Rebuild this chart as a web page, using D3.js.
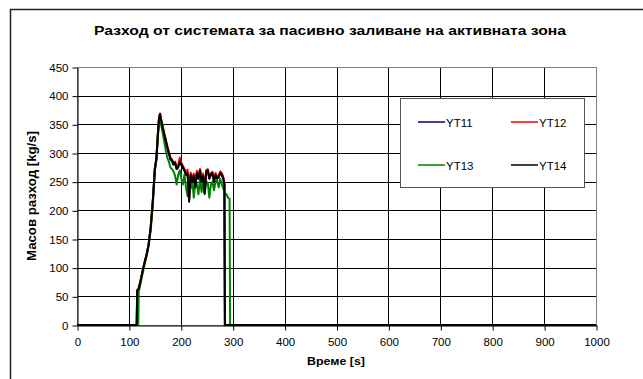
<!DOCTYPE html>
<html>
<head>
<meta charset="utf-8">
<script src="https://cdn.jsdelivr.net/npm/d3@7"></script>
<style>
  body { margin: 0; background: #fff; }
  svg { display: block; font-family: "Liberation Sans", Arial, sans-serif; }
</style>
</head>
<body>
<svg width="643" height="379"></svg>
<script>
// Time points [s]
const times = [0, 115, 116, 118, 119, 122, 126, 130, 134, 138, 142, 146, 150, 153, 156, 158, 160, 162, 165, 168,
  171, 174, 177, 180, 183, 186, 189, 192, 195, 198, 201, 204, 207, 210, 213, 216, 219, 222, 225, 228,
  231, 234, 237, 240, 243, 246, 249, 252, 255, 258, 261, 264, 267, 270, 273, 276, 279, 282, 284, 285,
  288, 291, 294, 295, 1000];

// Mass flow [kg/s] for each series
const yt11 = [0, 0, 60, 62, 64, 75, 92, 108, 122, 140, 170, 215, 272, 290, 335, 360, 367, 357, 344, 332,
  321, 309, 299, 289, 286, 280, 282, 272, 276, 286, 279, 274, 270, 262, 266, 218, 262, 251, 261, 242,
  265, 256, 269, 251, 261, 232, 267, 269, 256, 262, 264, 251, 262, 256, 258, 265, 262, 255, 245, 0,
  0, 0, 0, 0, 0];
const yt12 = [0, 0, 61, 63, 65, 76, 93, 109, 123, 141, 172, 217, 274, 292, 337, 362, 369, 360, 347, 335,
  324, 312, 302, 292, 289, 283, 285, 275, 278, 292, 283, 278, 272, 265, 271, 222, 266, 255, 264, 246,
  269, 258, 272, 254, 264, 236, 270, 272, 258, 265, 267, 254, 265, 258, 261, 268, 265, 258, 248, 0,
  0, 0, 0, 0, 0];
const yt13 = [0, 0, 0, 0, 58, 70, 88, 105, 120, 138, 165, 210, 268, 288, 330, 350, 362, 350, 335, 320,
  305, 292, 285, 275, 272, 268, 260, 245, 262, 270, 255, 245, 262, 240, 225, 245, 238, 255, 222, 250,
  245, 228, 255, 232, 250, 228, 250, 248, 222, 245, 250, 235, 250, 252, 240, 255, 245, 238, 232, 230,
  228, 222, 220, 0, 0];
const yt14 = [0, 0, 60, 62, 64, 75, 92, 108, 122, 140, 170, 215, 272, 290, 335, 360, 368, 358, 345, 333,
  322, 310, 300, 290, 287, 280, 283, 272, 275, 285, 280, 275, 270, 262, 265, 215, 262, 250, 260, 240,
  265, 255, 270, 250, 260, 230, 268, 270, 255, 262, 265, 250, 262, 255, 258, 265, 262, 255, 245, 0,
  0, 0, 0, 0, 0];

const seriesNames = ["YT11", "YT12", "YT13", "YT14"];
const seriesValues = [yt11, yt12, yt13, yt14];
const seriesColors = ["#000080", "#ff0000", "#008000", "#000000"];

const xTicks = [0, 100, 200, 300, 400, 500, 600, 700, 800, 900, 1000];
const yTicks = [0, 50, 100, 150, 200, 250, 300, 350, 400, 450];

const svg = d3.select("svg");

// outer chart border (right and bottom edges fall outside the picture)
svg.append("rect")
  .attr("x", 10.5).attr("y", 9.5)
  .attr("width", 700).attr("height", 500)
  .attr("fill", "#fff")
  .attr("stroke", "#222")
  .attr("stroke-width", 1.5);

// plot area
const plotLeft = 77, plotRight = 596, plotTop = 67, plotBottom = 325;

const xScale = d3.scaleLinear().domain([0, 1000]).range([plotLeft, plotRight]);
const yScale = d3.scaleLinear().domain([0, 450]).range([plotBottom, plotTop]);

// grid
svg.append("g")
  .selectAll("line")
  .data(yTicks)
  .enter()
  .append("line")
  .attr("x1", plotLeft).attr("x2", plotRight)
  .attr("y1", d => Math.round(yScale(d)) + 0.5)
  .attr("y2", d => Math.round(yScale(d)) + 0.5)
  .attr("stroke", "#000")
  .attr("stroke-width", 1);

svg.append("g")
  .selectAll("line")
  .data(xTicks)
  .enter()
  .append("line")
  .attr("y1", plotTop).attr("y2", plotBottom)
  .attr("x1", d => Math.round(xScale(d)) + 0.5)
  .attr("x2", d => Math.round(xScale(d)) + 0.5)
  .attr("stroke", "#000")
  .attr("stroke-width", 1);

// plot area frame
svg.append("rect")
  .attr("x", plotLeft + 0.5).attr("y", plotTop + 0.5)
  .attr("width", plotRight - plotLeft).attr("height", plotBottom - plotTop)
  .attr("fill", "none")
  .attr("stroke", "#808080");

// axes
const xAxis = d3.axisBottom(xScale).tickValues(xTicks).tickFormat(d3.format("d")).tickSize(5).tickSizeOuter(0);
const yAxis = d3.axisLeft(yScale).tickValues(yTicks).tickFormat(d3.format("d")).tickSize(5).tickSizeOuter(0);

const gx = svg.append("g")
  .attr("transform", `translate(0.5, ${plotBottom + 0.5})`)
  .call(xAxis);
const gy = svg.append("g")
  .attr("transform", `translate(${plotLeft + 0.5}, 0.5)`)
  .call(yAxis);

[gx, gy].forEach(g => {
  g.selectAll("path").attr("stroke", "#000");
  g.selectAll("line").attr("stroke", "#000");
  g.selectAll("text")
    .attr("fill", "#000")
    .style("font-family", "'Liberation Sans', Arial, sans-serif")
    .style("font-size", "11.5px");
});
gx.selectAll("text").attr("y", 12.5);
gy.selectAll("text").attr("x", -9);

// lines
const line = d3.line()
  .x((d, i) => xScale(times[i]))
  .y(d => yScale(d));

seriesValues.forEach((vals, k) => {
  svg.append("path")
    .datum(vals)
    .attr("fill", "none")
    .attr("stroke", seriesColors[k])
    .attr("stroke-width", 2)
    .attr("stroke-linejoin", "round")
    .attr("d", line);
});

// title
svg.append("text")
  .attr("x", 330).attr("y", 35)
  .attr("text-anchor", "middle")
  .attr("textLength", 472)
  .attr("lengthAdjust", "spacingAndGlyphs")
  .style("font-size", "13px")
  .style("font-weight", "bold")
  .text("Разход от системата за пасивно заливане на активната зона");

// axis titles
svg.append("text")
  .attr("x", 336).attr("y", 365)
  .attr("text-anchor", "middle")
  .attr("textLength", 58)
  .attr("lengthAdjust", "spacingAndGlyphs")
  .style("font-size", "11.5px")
  .style("font-weight", "bold")
  .text("Време  [s]");

svg.append("text")
  .attr("transform", "rotate(-90)")
  .attr("x", -196).attr("y", 36)
  .attr("text-anchor", "middle")
  .attr("textLength", 130)
  .attr("lengthAdjust", "spacingAndGlyphs")
  .style("font-size", "12px")
  .style("font-weight", "bold")
  .text("Масов разход  [kg/s]");

// legend
const legend = svg.append("g");
legend.append("rect")
  .attr("x", 400.5).attr("y", 98.5)
  .attr("width", 184).attr("height", 89)
  .attr("fill", "#fff")
  .attr("stroke", "#555")
  .attr("stroke-width", 1);

const legendPos = [[418, 122], [511, 122], [418, 165], [511, 165]];
seriesNames.forEach((name, k) => {
  const [lx, ly] = legendPos[k];
  legend.append("line")
    .attr("x1", lx).attr("x2", lx + 27)
    .attr("y1", ly).attr("y2", ly)
    .attr("stroke", seriesColors[k])
    .attr("stroke-width", 1.5);
  legend.append("text")
    .attr("x", lx + 28).attr("y", ly + 4.5)
    .style("font-size", "11.5px")
    .text(name);
});
</script>
</body>
</html>
